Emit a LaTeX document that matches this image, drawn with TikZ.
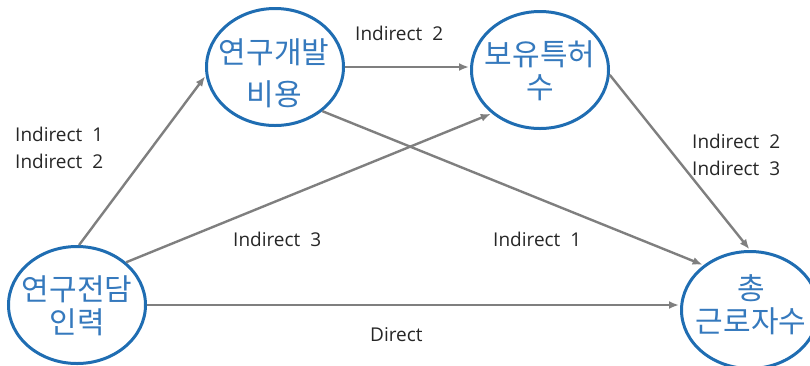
\documentclass[tikz,border=0pt]{standalone}
\usepackage{fontspec}
\setmainfont{Open Sans}
\newfontfamily\kr{Noto Sans CJK KR}
\usetikzlibrary{shapes.geometric,arrows.meta}
\definecolor{cblue}{HTML}{1F6DB2}
\definecolor{tblue}{HTML}{3579BD}
\definecolor{agray}{HTML}{7F7F7F}
\definecolor{lgray}{HTML}{262626}
\begin{document}
\begin{tikzpicture}[x=1pt,y=-1pt,
  conc/.style={ellipse,draw=cblue,line width=3pt,inner sep=0pt,minimum width=137pt,minimum height=117pt},
  ctext/.style={text=tblue,font=\kr\fontsize{30}{33}\selectfont,align=center,inner sep=0pt},
  link/.style={draw=agray,line width=2.4pt,-{Latex[length=10pt,width=8pt]},shorten >=1pt},
  lbl/.style={font=\fontsize{19}{27}\selectfont,text=lgray,align=left,inner sep=0pt,anchor=west}]
\path[use as bounding box] (0,0) rectangle (810,365);
% concepts
\node[conc] (A) at (275,67) {};
\node[ctext] (At) at (274,73) {연구개발\\[9pt]비용};
\node[conc] (B) at (540,70) {};
\node[ctext] (Bt) at (540,71) {보유특허\\수};
\node[conc] (C) at (77,305) {};
\node[ctext] (Ct) at (77,306) {연구전담\\인력};
\node[conc] (D) at (750,310) {};
\node[ctext] (Dt) at (751,305) {총\\근로자수};
% links
\draw[link] (C.88) -- (A.187);
\draw[link] (C.41) -- (B.222);
\draw[link] (C.east) -- (C.east -| D.west);
\draw[link] (A.east) -- (A.east -| B.west);
\draw[link] (A.-43) -- (D.136);
\draw[link] (B.-4) -- (D.north);
% labels
\node[lbl] (L1) at (355,33) {Indirect\ \ 2};
\node[lbl] (L2) at (15,148) {Indirect\ \ 1\\Indirect\ \ 2};
\node[lbl] (L3) at (692,155) {Indirect\ \ 2\\Indirect\ \ 3};
\node[lbl] (L4) at (233,239) {Indirect\ \ 3};
\node[lbl] (L5) at (493,239) {Indirect\ \ 1};
\node[lbl] (L6) at (370,335) {Direct};
\end{tikzpicture}
\end{document}
